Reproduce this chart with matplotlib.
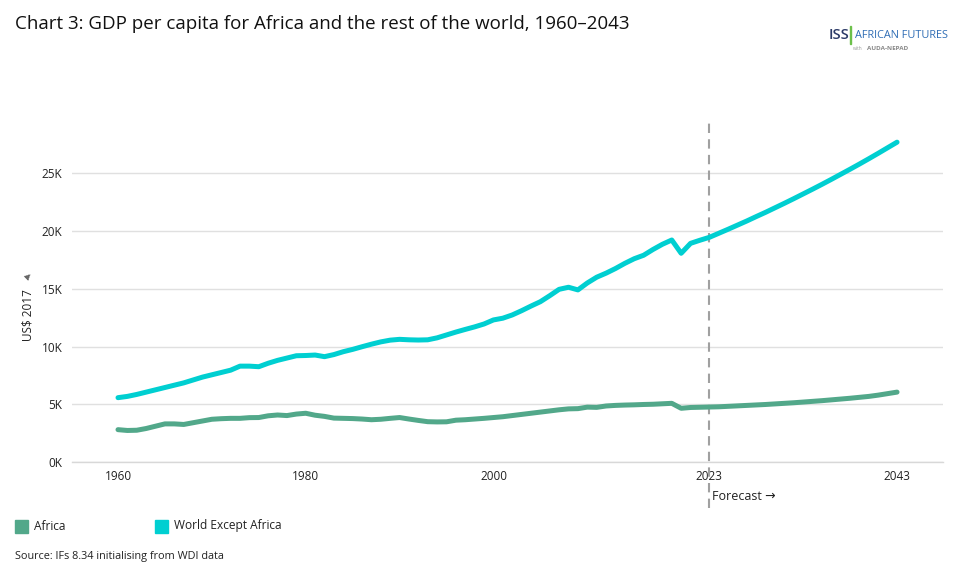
import numpy as np
import matplotlib.pyplot as plt
from matplotlib.patches import Rectangle

# GDP per capita, thousand US$ 2017, one value per year
years = list(range(1960, 2044))

world = [5.57, 5.68, 5.85, 6.05, 6.25, 6.45, 6.65, 6.85, 7.10, 7.35,
         7.55, 7.75, 7.95, 8.30, 8.30, 8.25, 8.55, 8.80, 9.00, 9.20,
         9.22, 9.26, 9.12, 9.30, 9.55, 9.75, 9.98, 10.20, 10.40, 10.55,
         10.62, 10.58, 10.56, 10.58, 10.75, 11.00, 11.25, 11.48, 11.70, 11.95,
         12.30, 12.45, 12.73, 13.10, 13.50, 13.88, 14.40, 14.95, 15.13, 14.90,
         15.50, 16.00, 16.35, 16.75, 17.20, 17.60, 17.90, 18.40, 18.85, 19.22,
         18.07, 18.93, 19.20, 19.45, 19.80, 20.15, 20.51, 20.87, 21.25, 21.62,
         22.01, 22.40, 22.80, 23.21, 23.62, 24.04, 24.47, 24.91, 25.35, 25.80,
         26.26, 26.73, 27.21, 27.69]

africa = [2.80, 2.73, 2.75, 2.90, 3.10, 3.30, 3.30, 3.25, 3.40, 3.55,
          3.70, 3.75, 3.78, 3.78, 3.84, 3.85, 4.00, 4.07, 4.02, 4.15,
          4.22, 4.05, 3.95, 3.80, 3.78, 3.76, 3.72, 3.66, 3.70, 3.78,
          3.85, 3.72, 3.60, 3.49, 3.47, 3.48, 3.62, 3.66, 3.72, 3.78,
          3.85, 3.92, 4.02, 4.12, 4.22, 4.32, 4.42, 4.52, 4.60, 4.62,
          4.75, 4.73, 4.85, 4.90, 4.93, 4.95, 4.98, 5.00, 5.04, 5.08,
          4.65, 4.72, 4.74, 4.76, 4.78, 4.82, 4.86, 4.90, 4.94, 4.98,
          5.03, 5.08, 5.13, 5.19, 5.25, 5.31, 5.38, 5.45, 5.52, 5.60,
          5.68, 5.79, 5.92, 6.05]

x_ticks = [1960, 1980, 2000, 2023, 2043]
y_ticks = [0, 5, 10, 15, 20, 25]
forecast_year = 2023

africa_color = '#52a88a'
world_color = '#00cfd1'
text_color = '#222222'

plt.rcParams['font.family'] = ['Open Sans', 'DejaVu Sans']

fig = plt.figure(figsize=(9.55, 5.84), dpi=100, facecolor='white')
W, H = 955, 584
# axes: x 72..943 px, y 120..462 px
ax = fig.add_axes([72 / W, 1 - 462 / H, (943 - 72) / W, (462 - 120) / H])

ax.plot(years, world, color=world_color, lw=3.6, solid_capstyle='round',
        solid_joinstyle='round', zorder=3)
ax.plot(years, africa, color=africa_color, lw=3.6, solid_capstyle='round',
        solid_joinstyle='round', zorder=3)

x0 = 1960 - (118 - 72) / 9.386
x1 = 1960 + (943 - 118) / 9.386
ax.set_xlim(x0, x1)
ax.set_ylim(0, 342 / 11.55)

ax.set_yticks(y_ticks)
ax.set_yticklabels([f'{v}K' for v in y_ticks])
ax.set_xticks(x_ticks)
ax.set_xticklabels([str(v) for v in x_ticks])
ax.tick_params(axis='both', length=0, labelsize=8.5, labelcolor=text_color)
ax.tick_params(axis='y', pad=7)
ax.tick_params(axis='x', pad=6)

ax.grid(axis='y', color='#e0e0e0', lw=1)
ax.grid(axis='x', visible=False)
ax.set_axisbelow(True)
for s in ['top', 'right', 'left']:
    ax.spines[s].set_visible(False)
ax.spines['bottom'].set_color('#d8d8d8')
ax.spines['bottom'].set_linewidth(1)

# forecast marker
ax.axvline(forecast_year, ymin=-(508 - 462) / 342, ymax=1, color='#a0a0a0',
           lw=1.5, ls=(0, (4.5, 3)), clip_on=False, zorder=2)
fig.text(712 / W, 1 - 497 / H, 'Forecast \u2192', fontsize=9, color=text_color,
         va='center', ha='left')

# y label with a small pin mark above it
fig.text(28 / W, 1 - 315 / H, 'US$ 2017', fontsize=8.5, color=text_color,
         rotation=90, va='center', ha='center')
fig.text(28 / W, 1 - 276 / H, '\u25b2', fontsize=6, color='#666666',
         rotation=-45, va='center', ha='center', family='DejaVu Sans')

# title
fig.text(15 / W, 1 - 24 / H, 'Chart 3: GDP per capita for Africa and the rest of the world, 1960\u20132043',
         fontsize=13.5, color='#111111', va='center', ha='left')

# logo
fig.text(829 / W, 1 - 35 / H, 'ISS', fontsize=10.5, color='#2b3a67', va='center',
         ha='left', fontweight='semibold')
fig.add_artist(Rectangle((850 / W, 1 - 44 / H), 1.2 / W, 18 / H, color='#6cc04a',
                         transform=fig.transFigure))
fig.text(855 / W, 1 - 35 / H, 'AFRICAN FUTURES', fontsize=7.8, color='#2f6db5',
         va='center', ha='left')
fig.text(853 / W, 1 - 49 / H, 'with', fontsize=3.5, color='#999999', va='center', ha='left')
fig.text(867 / W, 1 - 49 / H, 'AUDA-NEPAD', fontsize=4.5, color='#888888', va='center',
         ha='left', fontweight='bold')

# legend
fig.add_artist(Rectangle((15 / W, 1 - 533 / H), 13 / W, 13 / H, color=africa_color,
                         transform=fig.transFigure))
fig.text(34 / W, 1 - 526 / H, 'Africa', fontsize=8.6, color=text_color, va='center', ha='left')
fig.add_artist(Rectangle((155 / W, 1 - 533 / H), 13 / W, 13 / H, color=world_color,
                         transform=fig.transFigure))
fig.text(174 / W, 1 - 526 / H, 'World Except Africa', fontsize=8.6, color=text_color,
         va='center', ha='left')

fig.text(15 / W, 1 - 556 / H, 'Source: IFs 8.34 initialising from WDI data', fontsize=7.8,
         color=text_color, va='center', ha='left')

fig.savefig('out.png', dpi=100, facecolor='white')
